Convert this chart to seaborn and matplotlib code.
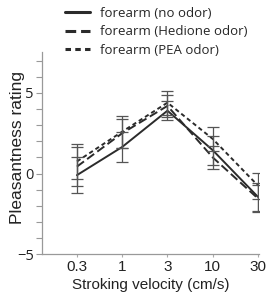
import numpy as np
import pandas as pd
import seaborn as sns
import matplotlib
matplotlib.use("Agg")
import matplotlib.pyplot as plt
from matplotlib.ticker import MultipleLocator
from matplotlib.lines import Line2D

velocities = ["0.3", "1", "3", "10", "30"]
series = ["forearm (no odor)", "forearm (Hedione odor)", "forearm (PEA odor)"]
no_odor = [-0.1, 1.65, 3.9, 1.45, -1.45]
no_odor_err = [1.12, 0.95, 0.6, 0.9, 0.85]
hedione = [0.43, 2.5, 4.2, 1.0, -1.55]
hedione_err = [1.2, 0.9, 0.7, 0.7, 0.85]
pea = [0.75, 2.6, 4.4, 2.15, -0.75]
pea_err = [1.1, 1.0, 0.75, 0.75, 0.8]

sns.set_style("ticks")
plt.rcParams["font.family"] = ["Open Sans", "DejaVu Sans"]
arial = ["Liberation Sans", "DejaVu Sans"]

rows = []
for name, vals in zip(series, [no_odor, hedione, pea]):
    for i, v in enumerate(vals):
        rows.append({"pos": i, "rating": v, "condition": name})
df = pd.DataFrame(rows)

fig = plt.figure(figsize=(2.68, 3.0), dpi=100)
ax = fig.add_axes([0.157, 0.153, 0.809, 0.674])

line_col = "#2b2b2b"
dashes = {series[0]: "", series[1]: (4.5, 2), series[2]: (2.2, 1.6)}
sns.lineplot(data=df, x="pos", y="rating", hue="condition", style="condition",
             dashes=dashes, palette=[line_col] * 3, linewidth=1.4, ax=ax,
             legend=False)

xpos = np.arange(len(velocities))
for vals, errs in zip([no_odor, hedione, pea], [no_odor_err, hedione_err, pea_err]):
    ax.errorbar(xpos, vals, yerr=errs, fmt="none", ecolor="#555555",
                elinewidth=0.9, capsize=4.5, capthick=0.9)

ax.set_xlim(-0.77, 4.02)
ax.set_ylim(-5, 7.55)
ax.set_xticks(xpos)
ax.set_xticklabels(velocities, family=arial, fontsize=11)
ax.set_yticks([-5, 0, 5])
ax.yaxis.set_minor_locator(MultipleLocator(1))
ax.tick_params(axis="x", length=2.5, width=0.8, color="#aaaaaa",
               labelcolor="#222222", pad=1.5)
ax.tick_params(axis="y", which="major", length=4, width=0.8, color="#999999",
               labelsize=10.5, labelcolor="#222222", pad=2)
ax.tick_params(axis="y", which="minor", length=4, width=0.8, color="#999999")
for s in ["top", "right"]:
    ax.spines[s].set_visible(False)
for s in ["left", "bottom"]:
    ax.spines[s].set_color("#999999")
    ax.spines[s].set_linewidth(0.9)
ax.set_xlabel("Stroking velocity (cm/s)", fontsize=11, family=arial,
              color="#222222", labelpad=3)
ax.set_ylabel("Pleasantness rating", fontsize=12.5, family=arial,
              color="#222222", va="center")
ax.yaxis.set_label_coords(-0.115, 0.527)

handles = [Line2D([], [], color=line_col, lw=2.2, linestyle="-"),
           Line2D([], [], color=line_col, lw=2.2, dashes=(3.5, 1.6)),
           Line2D([], [], color=line_col, lw=2.2, dashes=(1.8, 1.4))]
fig.legend(handles, series, loc="upper left", bbox_to_anchor=(65 / 268, 0.978),
           frameon=False, fontsize=9.5, handlelength=1.9, handletextpad=0.75,
           labelspacing=0.42, borderaxespad=0, borderpad=0)

fig.savefig("out.png", dpi=100)
